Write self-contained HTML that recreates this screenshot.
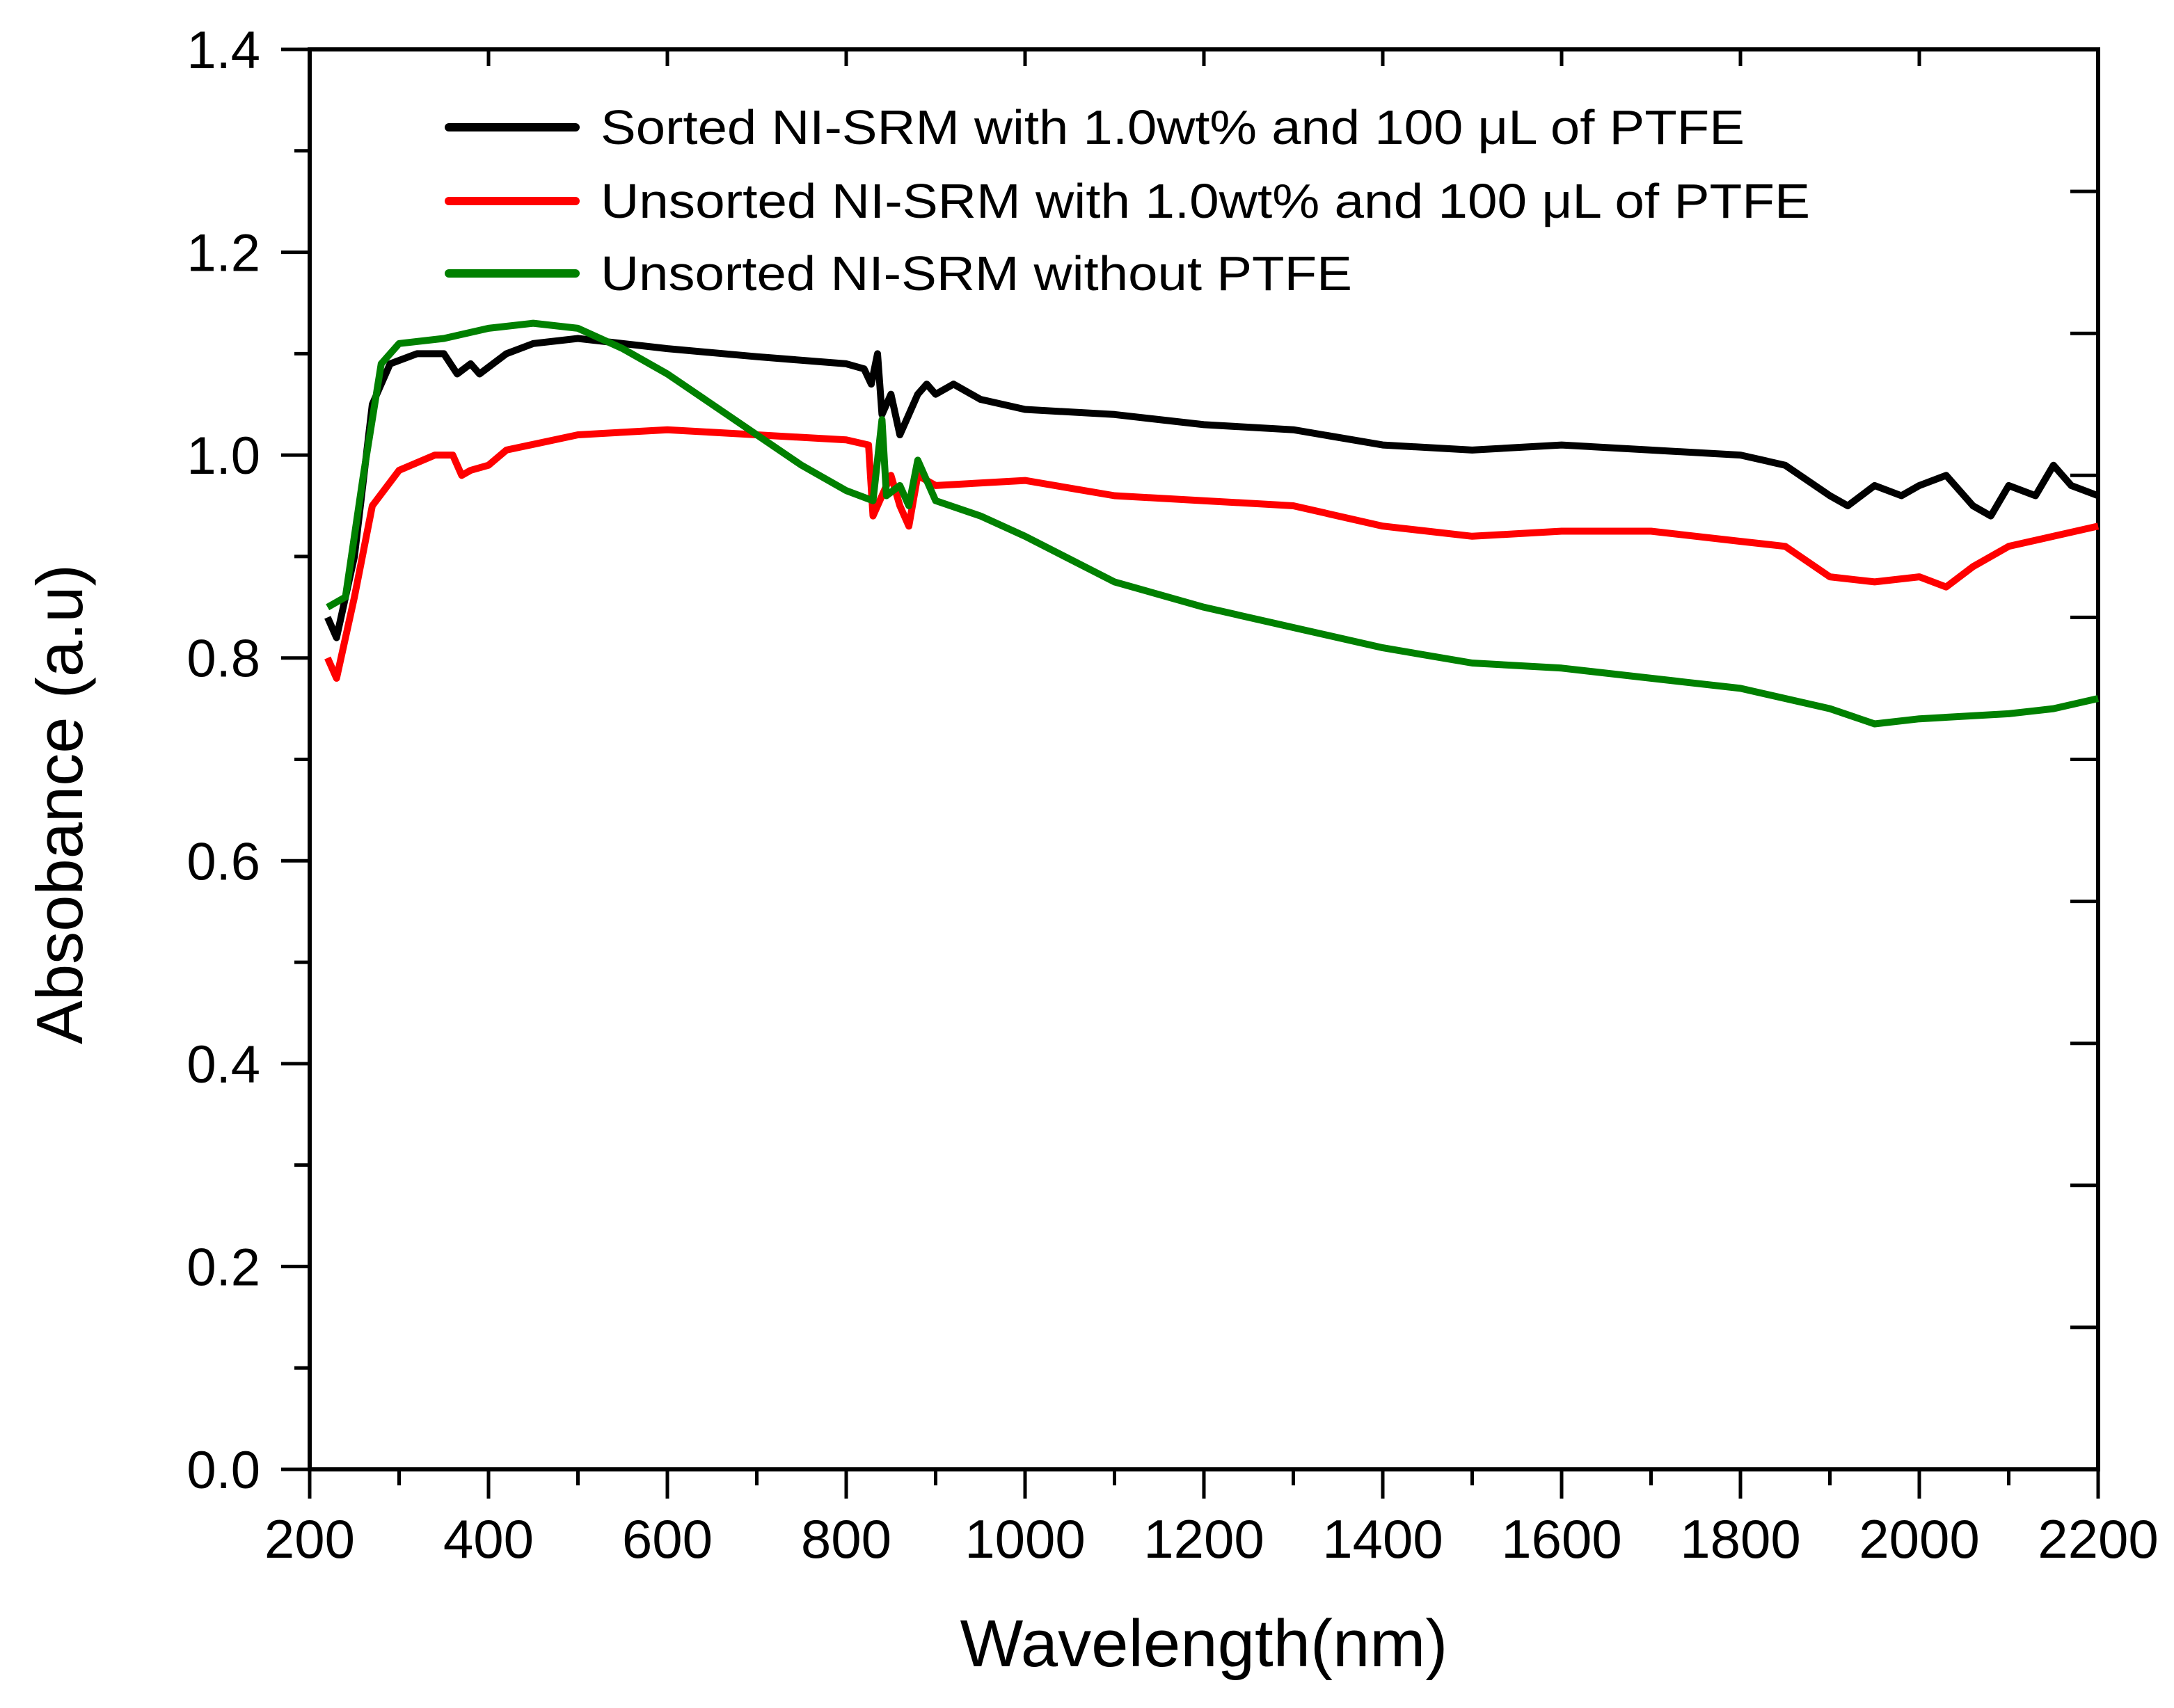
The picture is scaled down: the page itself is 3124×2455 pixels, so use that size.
<!DOCTYPE html>
<html><head><meta charset="utf-8"><style>
html,body{margin:0;padding:0;background:#fff;}
svg{display:block;font-family:"Liberation Sans",sans-serif;}
</style></head><body>
<svg id="chart" width="3124" height="2455" viewBox="0 0 3124 2455" xmlns="http://www.w3.org/2000/svg">
<rect width="3124" height="2455" fill="#fff"/>
<g id="axes"></g>
<g id="series"></g>
<g id="legend"></g>
<text x="1730" y="2395" font-size="96" text-anchor="middle" fill="#000">Wavelength(nm)</text>
<text transform="translate(118,1156) rotate(-90)" font-size="94" text-anchor="middle" fill="#000">Absobance (a.u)</text>
</svg>
<script>
const xTicks = [200,400,600,800,1000,1200,1400,1600,1800,2000,2200];
const yTicks = [0.0,0.2,0.4,0.6,0.8,1.0,1.2,1.4];
const seriesNames = ["Sorted NI-SRM with 1.0wt% and 100 \u03bcL of PTFE","Unsorted NI-SRM with 1.0wt% and 100 \u03bcL of PTFE","Unsorted NI-SRM without PTFE"];
const seriesColors = ["#000000","#ff0000","#008000"];
const blackX = [220,230,250,270,290,320,350,365,380,390,420,450,500,550,600,700,800,820,828,835,840,850,860,870,880,890,900,920,950,1000,1100,1200,1300,1400,1500,1600,1700,1800,1850,1900,1920,1950,1980,2000,2030,2060,2080,2100,2130,2150,2170,2200];
const blackY = [0.84,0.82,0.9,1.05,1.09,1.10,1.10,1.08,1.09,1.08,1.10,1.11,1.115,1.11,1.105,1.097,1.09,1.085,1.07,1.10,1.04,1.06,1.02,1.04,1.06,1.07,1.06,1.07,1.055,1.045,1.04,1.03,1.025,1.01,1.005,1.01,1.005,1.0,0.99,0.96,0.95,0.97,0.96,0.97,0.98,0.95,0.94,0.97,0.96,0.99,0.97,0.96];
const redX = [220,230,250,270,300,340,360,370,380,400,420,500,600,700,800,825,830,840,850,860,870,880,900,1000,1100,1200,1300,1400,1500,1600,1700,1800,1850,1900,1950,2000,2030,2060,2100,2150,2200];
const redY = [0.80,0.78,0.86,0.95,0.985,1.0,1.0,0.98,0.985,0.99,1.005,1.02,1.025,1.02,1.015,1.01,0.94,0.96,0.98,0.95,0.93,0.98,0.97,0.975,0.96,0.955,0.95,0.93,0.92,0.925,0.925,0.915,0.91,0.88,0.875,0.88,0.87,0.89,0.91,0.92,0.93];
const greenX = [220,240,260,280,300,350,400,450,500,550,600,650,700,750,800,830,840,845,860,870,880,900,950,1000,1100,1200,1300,1400,1500,1600,1700,1800,1900,1950,2000,2100,2150,2200];
const greenY = [0.85,0.86,0.98,1.09,1.11,1.115,1.125,1.13,1.125,1.105,1.08,1.05,1.02,0.99,0.965,0.955,1.035,0.96,0.97,0.95,0.995,0.955,0.94,0.92,0.875,0.85,0.83,0.81,0.795,0.79,0.78,0.77,0.75,0.735,0.74,0.745,0.75,0.76];

const X0=445,X1=3015,Y0=2112,Y1=71;
const xs = v => X0 + (v-200)/2000*(X1-X0);
const ys = v => Y0 - v/1.4*(Y0-Y1);
const NS="http://www.w3.org/2000/svg";
function mk(tag, attrs, parent){const e=document.createElementNS(NS,tag);for(const k in attrs)e.setAttribute(k,attrs[k]);parent.appendChild(e);return e;}
const axes=document.getElementById('axes');
const frame = mk('rect',{x:X0,y:Y1,width:X1-X0,height:Y0-Y1,fill:'none',stroke:'#000','stroke-width':6},axes);


// x ticks
for(let i=0;i<xTicks.length;i++){
  const x=xs(xTicks[i]);
  const t=mk('line',{x1:x,y1:Y0,x2:x,y2:Y0+42,stroke:'#000','stroke-width':5},axes);
  
  
  const tt=mk('line',{x1:x,y1:Y1,x2:x,y2:Y1+24,stroke:'#000','stroke-width':5},axes);
  
  
  const l=mk('text',{x:x,y:2239,'font-size':78,'text-anchor':'middle',fill:'#000'},axes);
  l.textContent=xTicks[i];
  
  
  if(i<xTicks.length-1){
    const xm=xs(xTicks[i]+100);
    const m=mk('line',{x1:xm,y1:Y0,x2:xm,y2:Y0+23,stroke:'#000','stroke-width':5},axes);
    
    
  }
}
// y ticks
for(let i=0;i<yTicks.length;i++){
  const y=ys(yTicks[i]);
  const t=mk('line',{x1:X0-41,y1:y,x2:X0,y2:y,stroke:'#000','stroke-width':5},axes);
  
  
  const l=mk('text',{x:374,y:y+27,'font-size':76,'text-anchor':'end',fill:'#000'},axes);
  l.textContent=yTicks[i].toFixed(1);
  
  
  if(i<yTicks.length-1){
    const ym=ys(yTicks[i]+0.1);
    const m=mk('line',{x1:X0-22,y1:ym,x2:X0,y2:ym,stroke:'#000','stroke-width':5},axes);
    
    
  }
}
for(let k=1;k<=9;k++){
  const y=ys(0.14*k);
  const r=mk('line',{x1:X1-40,y1:y,x2:X1,y2:y,stroke:'#000','stroke-width':5},axes);
  
  
}
// series
const sg=document.getElementById('series');
const allX=[blackX,redX,greenX], allY=[blackY,redY,greenY];
const sNames=['series-sorted-ptfe','series-unsorted-ptfe','series-unsorted-no-ptfe'];
for(let s=0;s<3;s++){
  let d='';
  for(let i=0;i<allX[s].length;i++){d+=(i?'L':'M')+xs(allX[s][i]).toFixed(1)+','+ys(allY[s][i]).toFixed(1);}
  const p=mk('path',{d:d,fill:'none',stroke:seriesColors[s],'stroke-width':10,'stroke-linejoin':'round'},sg);
  
  
}
// legend
const lg=document.getElementById('legend');
const legY=[183,289,393], legLen=[1644,1738,1080];
for(let s=0;s<3;s++){
  const ln=mk('line',{x1:645,y1:legY[s],x2:827,y2:legY[s],stroke:seriesColors[s],'stroke-width':12,'stroke-linecap':'round'},lg);
  
  
  const t=mk('text',{x:863,y:legY[s]+24,'font-size':70,fill:'#000',textLength:legLen[s],lengthAdjust:'spacingAndGlyphs'},lg);
  t.textContent=seriesNames[s];
  
  
}
</script>
</body></html>
